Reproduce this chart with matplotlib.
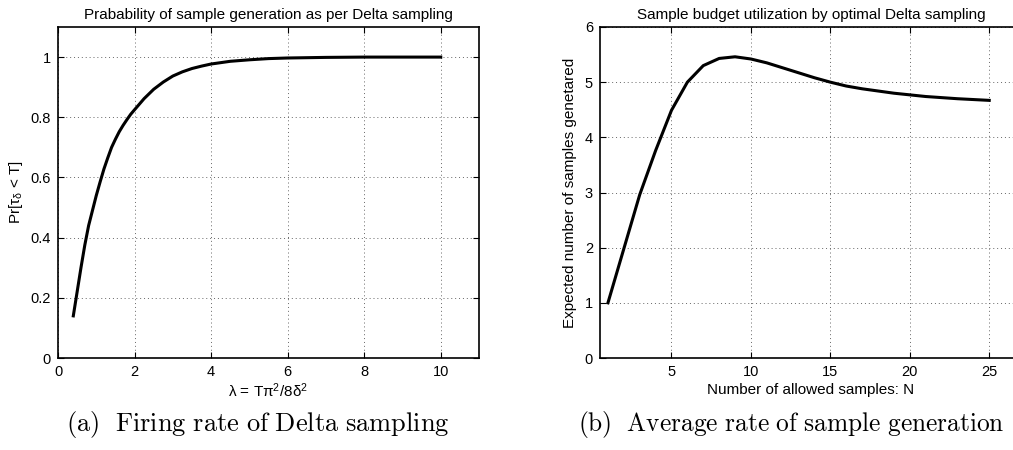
import numpy as np
import matplotlib.pyplot as plt

plt.rcParams['font.family'] = ['Liberation Sans', 'DejaVu Sans']
plt.rcParams['mathtext.fontset'] = 'custom'
plt.rcParams['mathtext.rm'] = 'Liberation Sans'
plt.rcParams['mathtext.it'] = 'Liberation Sans'

# panel (a): Pr[tau < T] vs lambda
lam = [0.4, 0.5, 0.6, 0.7, 0.8, 0.9, 1.0, 1.1, 1.2, 1.3, 1.4, 1.5, 1.6, 1.7, 1.8, 1.9,
       2.0, 2.25, 2.5, 2.75, 3.0, 3.25, 3.5, 3.75, 4.0, 4.5, 5.0, 5.5, 6.0, 7.0, 8.0,
       9.0, 10.0]
prob = [0.14, 0.22, 0.30, 0.375, 0.44, 0.49, 0.54, 0.585, 0.628, 0.665, 0.70, 0.727,
        0.752, 0.773, 0.792, 0.81, 0.825, 0.862, 0.893, 0.917, 0.937, 0.951, 0.962,
        0.970, 0.977, 0.986, 0.991, 0.995, 0.997, 0.999, 1.0, 1.0, 1.0]

# panel (b): expected samples vs N
N = list(range(1, 26))
expected = [1.0, 1.98, 2.96, 3.76, 4.49, 5.0, 5.3, 5.43, 5.46, 5.42, 5.35, 5.26, 5.17,
            5.08, 5.0, 4.93, 4.88, 4.84, 4.80, 4.77, 4.74, 4.72, 4.70, 4.685, 4.67]

W, H = 1013, 450
fig = plt.figure(figsize=(W / 100, H / 100), dpi=100)
fs = 11


def style(ax):
    ax.grid(True, linestyle=(0, (1, 3)), color='#666666', linewidth=0.7)
    ax.tick_params(direction='in', top=True, right=True, labelsize=10.5, length=4, pad=5)
    for s in ax.spines.values():
        s.set_linewidth(1.2)


ax1 = fig.add_axes([58 / W, 1 - 358 / H, 421 / W, 331 / H])
ax1.plot(lam, prob, color='black', linewidth=2.2)
ax1.set_xlim(0, 11)
ax1.set_ylim(0, 1.1)
ax1.set_xticks([0, 2, 4, 6, 8, 10])
ax1.set_yticks([0, 0.2, 0.4, 0.6, 0.8, 1])
ax1.set_yticklabels(['0', '0.2', '0.4', '0.6', '0.8', '1'])
style(ax1)
ax1.set_title('Prabability of sample generation as per Delta sampling', fontsize=fs, pad=6)
ax1.set_xlabel(r'$\mathrm{\lambda}$ = T$\mathrm{\pi}^2$/8$\mathrm{\delta}^2$', fontsize=fs, labelpad=2)
ax1.set_ylabel(r'Pr[$\mathrm{\tau_{\delta}}$ < T]', fontsize=fs, labelpad=4)

ax2 = fig.add_axes([600 / W, 1 - 358 / H, 421 / W, 331 / H])
ax2.plot(N, expected, color='black', linewidth=2.2)
ax2.set_xlim(0.5, 27)
ax2.set_ylim(0, 6)
ax2.set_xticks([5, 10, 15, 20, 25])
ax2.set_yticks([0, 1, 2, 3, 4, 5, 6])
style(ax2)
ax2.set_title('Sample budget utilization by optimal Delta sampling', fontsize=fs, pad=6,
              x=(811 - 600) / 421)
ax2.set_xlabel('Number of allowed samples: N', fontsize=fs, labelpad=3)
ax2.xaxis.set_label_coords((811 - 600) / 421, -0.075)
ax2.set_ylabel('Expected number of samples genetared', fontsize=fs)
ax2.yaxis.set_label_coords((577 - 600) / 421, 0.5)

fig.text(258 / W, 1 - 425 / H, r'$\mathrm{(a)\ \ Firing\ rate\ of\ Delta\ sampling}$',
         ha='center', va='center', fontsize=19, math_fontfamily='cm')
fig.text(578 / W, 1 - 425 / H, r'$\mathrm{(b)\ \ Average\ rate\ of\ sample\ generation}$',
         ha='left', va='center', fontsize=18.3, math_fontfamily='cm')

fig.savefig('out.png', dpi=100)
